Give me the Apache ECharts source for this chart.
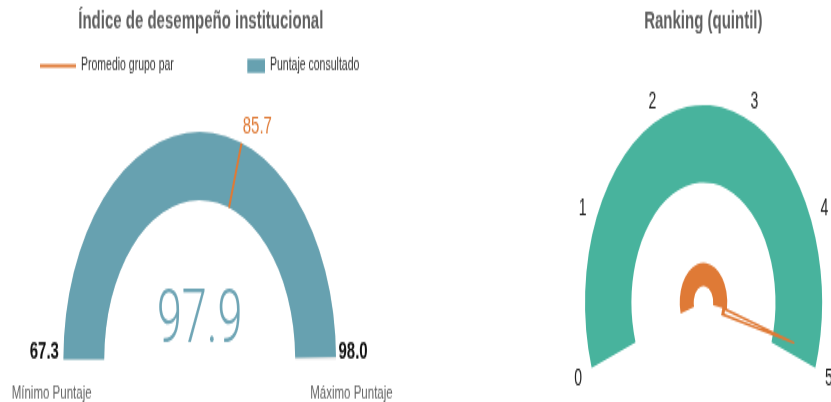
<!DOCTYPE html>
<html>
<head>
<meta charset="utf-8">
<script src="https://cdn.jsdelivr.net/npm/echarts@6/dist/echarts.min.js"></script>
<style>
  html, body { margin: 0; padding: 0; background: #fff; width: 831px; height: 402px; overflow: hidden; }
  /* the reference is squeezed vertically, so the gauges are drawn round and stretched */
  #chart { width: 831px; height: 241px; transform: scaleY(1.668); transform-origin: 0 0; }
</style>
</head>
<body>
<div id="chart"></div>
<script>
// left gauge: institutional score
const scoreMin = 67.3;
const scoreMax = 98.0;
const scoreValue = 97.9;
const peerAverage = 85.7;
const scoreLabels = ['Mínimo Puntaje', 'Máximo Puntaje'];
const legendNames = ['Promedio grupo par', 'Puntaje consultado'];
const titles = ['Índice de desempeño institucional', 'Ranking (quintil)'];

// right gauge: ranking by quintile
const rankMin = 0;
const rankMax = 5;
const rankSplits = 5;
const rankValue = 4.9;

const TEAL = '#67A1B0';
const GREEN = '#48B39D';
const ORANGE = '#DF7A36';
const TITLE_FONT = "bold 15px 'Liberation Sans'";

function textWidth(text, font) {
    const ctx = document.createElement('canvas').getContext('2d');
    ctx.font = font;
    return ctx.measureText(text).width;
}

const leftCenter = [199.7, 215.4];
const rightCenter = [703.5, 181.4];

// angle of the peer average on the left scale
const peerAngle = 180 - 180 * (peerAverage - scoreMin) / (scoreMax - scoreMin);

var myChart = echarts.init(document.getElementById('chart'));

var option = {
    animation: false,
    title: [
        {
            text: titles[0],
            left: 200.8 - textWidth(titles[0], TITLE_FONT) / 2,
            top: 5,
            padding: 0,
            textStyle: { fontSize: 15, fontWeight: 'bold', color: '#5f5f5f', fontFamily: 'Liberation Sans' }
        },
        {
            text: titles[1],
            left: 703.3 - textWidth(titles[1], TITLE_FONT) / 2,
            top: 5,
            padding: 0,
            textStyle: { fontSize: 15, fontWeight: 'bold', color: '#5f5f5f', fontFamily: 'Liberation Sans' }
        }
    ],
    legend: [
        {
            data: [{ name: legendNames[0], icon: 'rect', itemStyle: { color: ORANGE } }],
            left: 40, top: 34, padding: 0,
            itemWidth: 36, itemHeight: 1.8,
            selectedMode: false,
            textStyle: { fontSize: 10.5, color: '#333', fontFamily: 'Liberation Sans' }
        },
        {
            data: [{ name: legendNames[1], icon: 'rect', itemStyle: { color: TEAL } }],
            left: 247.3, top: 34, padding: 0,
            itemWidth: 17.7, itemHeight: 8.4,
            selectedMode: false,
            textStyle: { fontSize: 10.5, color: '#333', fontFamily: 'Liberation Sans' }
        }
    ],
    series: [
        {
            type: 'gauge',
            name: legendNames[1],
            z: 2,
            center: leftCenter,
            radius: 136.3,
            startAngle: 180,
            endAngle: 0,
            min: scoreMin,
            max: scoreMax,
            splitNumber: 1,
            axisLine: { lineStyle: { width: 40.8, color: [[1, '#e9e9e9']] } },
            progress: { show: true, width: 40.8, itemStyle: { color: TEAL } },
            pointer: { show: false },
            anchor: { show: false },
            axisTick: { show: false },
            splitLine: { show: false, length: 0, distance: 0 },
            axisLabel: {
                distance: -53.7,
                padding: [18, 0, 0, 0],
                formatter: function (v) {
                    if (Math.abs(v - scoreMin) < 1e-6) {
                        return '{lv|' + scoreMin.toFixed(1) + '}\n{ls|' + scoreLabels[0] + '}';
                    }
                    return '{rv|' + scoreMax.toFixed(1) + '}\n{rs|' + scoreLabels[1] + '}';
                },
                rich: {
                    lv: { fontSize: 15, fontWeight: 'bold', color: '#111', lineHeight: 22, align: 'left', padding: [0, 0, 0, 20], fontFamily: 'Liberation Sans' },
                    rv: { fontSize: 15, fontWeight: 'bold', color: '#111', lineHeight: 22, align: 'right', padding: [0, 22, 0, 0], fontFamily: 'Liberation Sans' },
                    ls: { fontSize: 11.5, color: '#666', lineHeight: 27, align: 'left', padding: [0, 0, 0, 2], fontFamily: 'Liberation Sans' },
                    rs: { fontSize: 11.5, color: '#666', lineHeight: 27, align: 'right', padding: [0, -3, 0, 0], fontFamily: 'Liberation Sans' }
                }
            },
            title: { show: false },
            detail: {
                offsetCenter: [0, -22],
                fontSize: 45,
                fontWeight: 300,
                fontFamily: "'Liberation Sans Narrow', Roboto",
                color: '#6FA5B5',
                formatter: function (v) { return v.toFixed(1); }
            },
            data: [{ value: scoreValue }]
        },
        {
            // peer average marker and its label
            type: 'gauge',
            name: legendNames[0],
            z: 5,
            center: leftCenter,
            radius: 136.3,
            startAngle: 180,
            endAngle: peerAngle,
            min: scoreMin,
            max: peerAverage,
            splitNumber: 1,
            axisLine: { show: false },
            axisTick: { show: false },
            splitLine: { show: false, length: 0, distance: 0 },
            axisLabel: {
                distance: -18.7,
                padding: [0, 0, 0, 20],
                color: ORANGE,
                fontSize: 15,
                fontFamily: 'Liberation Sans',
                formatter: function (v) {
                    return Math.abs(v - peerAverage) < 1e-6 ? peerAverage.toFixed(1) : '';
                }
            },
            pointer: { show: true, showAbove: true, icon: 'rect', width: 2, length: 40.8, offsetCenter: [0, -95.5], itemStyle: { color: ORANGE } },
            anchor: { show: false },
            title: { show: false },
            detail: { show: false },
            data: [{ value: peerAverage, pointer: { width: 2, length: 40.8, offsetCenter: [0, -95.5], itemStyle: { color: ORANGE } } }]
        },
        {
            // needle hub
            type: 'gauge',
            name: 'hub',
            center: rightCenter,
            radius: 23.8,
            startAngle: 196,
            endAngle: -10,
            axisLine: { lineStyle: { width: 14, color: [[1, ORANGE]] } },
            axisTick: { show: false },
            splitLine: { show: false },
            axisLabel: { show: false },
            pointer: { show: false },
            anchor: { show: false },
            title: { show: false },
            detail: { show: false },
            data: [{ value: rankMin }]
        },
        {
            type: 'gauge',
            name: titles[1],
            center: rightCenter,
            radius: 118.5,
            startAngle: 199.3,
            endAngle: -19.3,
            min: rankMin,
            max: rankMax,
            splitNumber: rankSplits,
            axisLine: { lineStyle: { width: 46.5, color: [[1, GREEN]] } },
            axisTick: { show: false },
            splitLine: { show: false, length: 0, distance: 0 },
            axisLabel: { distance: -18.5, color: '#222', fontSize: 14, fontFamily: 'Liberation Sans' },
            pointer: { icon: 'path://M4,0 L6,0 L10,100 L0,100 Z' },
            anchor: { show: false },
            title: { show: false },
            detail: { show: false },
            data: [
                { value: rankValue, pointer: { width: 5.5, length: 75, offsetCenter: [0, -19], itemStyle: { color: ORANGE } } },
                { value: rankValue, pointer: { width: 1.8, length: 38, offsetCenter: [0, -22], itemStyle: { color: '#fff' } } }
            ]
        }
    ]
};

myChart.setOption(option);
</script>
</body>
</html>
